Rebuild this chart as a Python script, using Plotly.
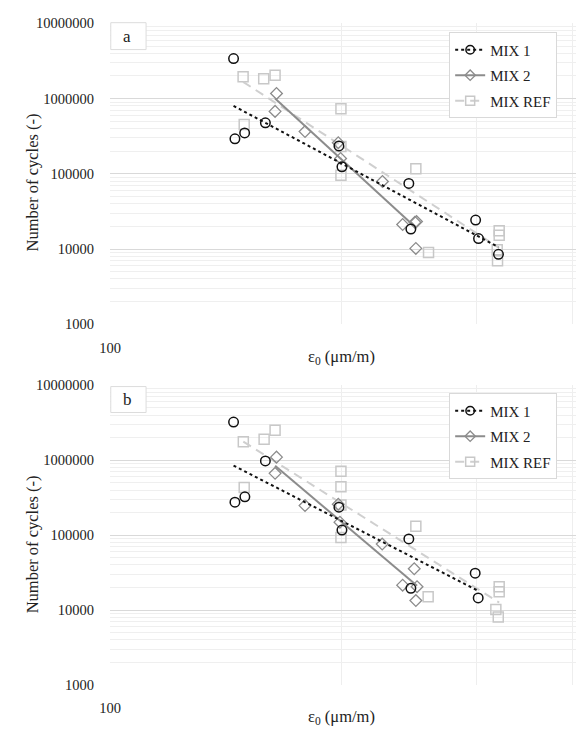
import numpy as np
import plotly.graph_objects as go

# ---------------- data ----------------
# Panel a
x_mix1_a = [144.8, 145.4, 149.7, 159.3, 198.6, 200.4, 244.9, 246.4, 299.2, 301.8, 320.4]
n_mix1_a = [3.40e6, 2.92e5, 3.50e5, 4.77e5, 2.35e5, 1.24e5, 7.46e4, 1.84e4, 2.43e4, 1.38e4, 8.5e3]

x_mix2_a = [164.7, 164.0, 179.4, 198.2, 199.6, 226.3, 240.4, 249.4, 250.6, 250.1]
n_mix2_a = [1.17e6, 6.76e5, 3.65e5, 2.59e5, 1.60e5, 7.92e4, 2.12e4, 2.27e4, 2.32e4, 1.02e4]

x_ref_a = [149.0, 158.5, 164.0, 149.5, 199.8, 199.8, 199.8, 250.1, 259.8, 321.1, 321.1, 319.2, 319.5]
n_ref_a = [1.95e6, 1.84e6, 2.05e6, 4.54e5, 7.32e5, 2.30e5, 9.56e4, 1.17e5, 8.98e3, 1.75e4, 1.52e4, 9.8e3, 7.0e3]

# Panel b
x_mix1_b = [144.8, 145.4, 149.8, 159.3, 198.6, 200.4, 244.9, 246.4, 298.8, 301.5]
n_mix1_b = [3.23e6, 2.75e5, 3.25e5, 9.79e5, 2.36e5, 1.17e5, 8.9e4, 1.95e4, 3.1e4, 1.45e4]

x_mix2_b = [164.7, 164.0, 179.4, 198.2, 199.2, 226.1, 248.9, 240.4, 251.0, 250.1]
n_mix2_b = [1.10e6, 6.68e5, 2.48e5, 2.59e5, 1.49e5, 7.6e4, 3.56e4, 2.15e4, 2.05e4, 1.34e4]

x_ref_b = [149.1, 158.7, 164.0, 149.5, 199.8, 199.8, 199.8, 199.8, 250.1, 259.5, 321.1, 321.1, 317.9, 320.2]
n_ref_b = [1.77e6, 1.90e6, 2.51e6, 4.31e5, 7.10e5, 4.44e5, 2.53e5, 9.3e4, 1.31e5, 1.51e4, 2.05e4, 1.76e4, 1.02e4, 8.05e3]

series_names = ["MIX 1", "MIX 2", "MIX REF"]
panel_labels = ["a", "b"]
y_tickvals = [1e3, 1e4, 1e5, 1e6, 1e7]
y_ticktext = ["1000", "10000", "100000", "1000000", "10000000"]
x_tickvals = [100]
x_ticktext = ["100"]
x_title = "ε<sub>0</sub> (μm/m)"
y_title = "Number of cycles (-)"

# ---------------- styling ----------------
W, H = 576, 736
FONT = "Liberation Serif, Times New Roman, serif"
styles = {
    "MIX 1": dict(symbol="circle-open", size=9.5, mcolor="#111111", mline=1.5,
                  lcolor="#111111", dash="dot", lwidth=2),
    "MIX 2": dict(symbol="diamond-open", size=9, mcolor="#8c8c8c", mline=1.3,
                  lcolor="#8c8c8c", dash="solid", lwidth=2),
    "MIX REF": dict(symbol="square-open", size=10, mcolor="#c8c8c8", mline=1.5,
                    lcolor="#cfcfcf", dash="9px,6px", lwidth=2),
}

# pixel layout for both panels: (top px, bottom px)
panels_px = [(15.7, 323.3), (385.7, 692.0)]
x_left_px = 101.0
x_range = [2.0, 2.0 + (W - x_left_px) / 783.0]


def py(p):
    return 1 - p / H


def power_fit(x, n):
    lx, ln = np.log10(x), np.log10(n)
    b, a = np.polyfit(lx, ln, 1)
    xe = np.array([min(x), max(x)])
    return xe, 10 ** (a + b * np.log10(xe))


fig = go.Figure()

data_sets = [
    {"MIX 1": (x_mix1_a, n_mix1_a), "MIX 2": (x_mix2_a, n_mix2_a), "MIX REF": (x_ref_a, n_ref_a)},
    {"MIX 1": (x_mix1_b, n_mix1_b), "MIX 2": (x_mix2_b, n_mix2_b), "MIX REF": (x_ref_b, n_ref_b)},
]

for i, ds in enumerate(data_sets):
    xa = "x" if i == 0 else "x2"
    ya = "y" if i == 0 else "y2"
    leg = "legend" if i == 0 else "legend2"
    for name in ["MIX REF", "MIX 2", "MIX 1"]:
        s = styles[name]
        x, n = ds[name]
        fig.add_trace(go.Scatter(
            x=x, y=n, mode="markers", xaxis=xa, yaxis=ya, showlegend=False,
            marker=dict(symbol=s["symbol"], size=s["size"], color=s["mcolor"],
                        line=dict(color=s["mcolor"], width=s["mline"])),
            hoverinfo="skip"))
        xe, ne = power_fit(x, n)
        fig.add_trace(go.Scatter(
            x=xe, y=ne, mode="lines", xaxis=xa, yaxis=ya, showlegend=False,
            line=dict(color=s["lcolor"], width=s["lwidth"], dash=s["dash"]),
            hoverinfo="skip"))
    for k, name in enumerate(series_names):
        s = styles[name]
        fig.add_trace(go.Scatter(
            x=[None], y=[None], mode="lines+markers", name=name, xaxis=xa, yaxis=ya,
            legend=leg, legendgroup=f"{leg}_{k}",
            marker=dict(symbol=s["symbol"], size=s["size"] - 1, color=s["mcolor"],
                        line=dict(color=s["mcolor"], width=s["mline"])),
            line=dict(color=s["lcolor"], width=s["lwidth"], dash=s["dash"])))

axis_common_x = dict(
    type="log", range=x_range, tickmode="array", tickvals=x_tickvals, ticktext=x_ticktext,
    showgrid=True, gridcolor="#dedede", gridwidth=1, zeroline=False, showline=False,
    ticks="", ticklabelstandoff=13,
    tickfont=dict(family=FONT, size=14.5, color="#222222"),
    minor=dict(dtick="D1", showgrid=True, gridcolor="#eeeeee", gridwidth=1, ticks=""),
    domain=[x_left_px / W, 1.0], fixedrange=True,
)
axis_common_y = dict(
    type="log", range=[3, 7], tickmode="array", tickvals=y_tickvals, ticktext=y_ticktext,
    showgrid=True, gridcolor="#d9d9d9", gridwidth=1.3, zeroline=False, showline=False,
    ticks="", ticklabelstandoff=15,
    tickfont=dict(family=FONT, size=14.5, color="#222222"),
    minor=dict(dtick="D1", showgrid=True, gridcolor="#efefef", gridwidth=1, ticks=""),
    fixedrange=True,
)

legend_common = dict(xanchor="left", yanchor="top", bgcolor="white",
                     bordercolor="#d9d9d9", borderwidth=1, tracegroupgap=3,
                     font=dict(family=FONT, size=15, color="#222222"))

(t1, b1), (t2, b2) = panels_px
fig.update_layout(
    width=W, height=H, autosize=False,
    margin=dict(l=0, r=0, t=0, b=0),
    paper_bgcolor="white", plot_bgcolor="white",
    font=dict(family=FONT, size=15, color="#222222"),
    xaxis=dict(anchor="y", **axis_common_x),
    yaxis=dict(anchor="x", domain=[py(b1), py(t1)], **axis_common_y),
    xaxis2=dict(anchor="y2", **axis_common_x),
    yaxis2=dict(anchor="x2", domain=[py(b2), py(t2)], **axis_common_y),
    legend=dict(x=446.7 / W, y=py(25), **legend_common),
    legend2=dict(x=446.7 / W, y=py(394), **legend_common),
    showlegend=True,
)

shapes = []
annotations = []
label_boxes = [(15.0, 42.5), (387.0, 413.5)]
for i, (top, bot) in enumerate(panels_px):
    bt, bb = label_boxes[i]
    shapes.append(dict(type="rect", xref="paper", yref="paper",
                       x0=101.7 / W, x1=137.7 / W, y0=py(bb), y1=py(bt),
                       fillcolor="white", line=dict(color="#dcdcdc", width=1), layer="above"))
    annotations.append(dict(text=panel_labels[i], xref="paper", yref="paper",
                            x=118.5 / W, y=py((bt + bb) / 2), showarrow=False,
                            font=dict(family=FONT, size=17, color="#222222"),
                            xanchor="center", yanchor="middle"))
    annotations.append(dict(text=y_title, xref="paper", yref="paper",
                            x=21.5 / W, y=py(top + 162.5), textangle=-90, showarrow=False,
                            font=dict(family=FONT, size=16.5, color="#222222"),
                            xanchor="center", yanchor="middle"))
    annotations.append(dict(text=x_title, xref="paper", yref="paper",
                            x=337 / W, y=py(bot + 33), showarrow=False,
                            font=dict(family=FONT, size=16.5, color="#222222"),
                            xanchor="center", yanchor="middle"))

fig.update_layout(shapes=shapes, annotations=annotations)
fig.write_html("out.html")
